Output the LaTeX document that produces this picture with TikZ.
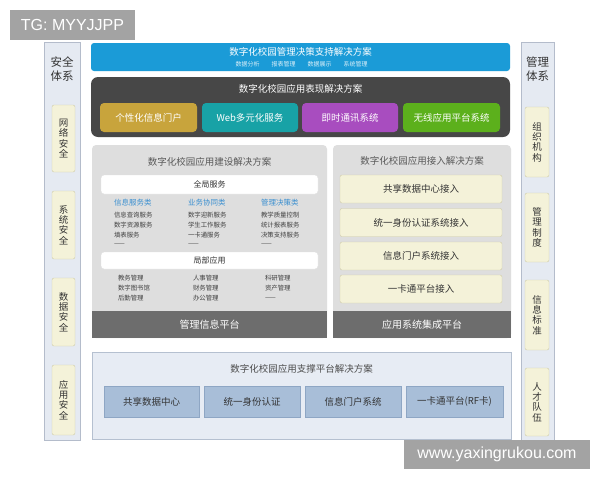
\documentclass[tikz,border=0pt]{standalone}
\usepackage{fontspec}
\setmainfont{Noto Sans CJK SC}
\newfontfamily\latinfont{Liberation Sans}
\definecolor{barblue}{HTML}{1B9BD7}
\definecolor{darkbar}{HTML}{474747}
\definecolor{cgold}{HTML}{C8A43C}
\definecolor{cteal}{HTML}{18A2A6}
\definecolor{cpurple}{HTML}{A84DBF}
\definecolor{cgreen}{HTML}{5CB01C}
\definecolor{panelgray}{HTML}{DEDEDE}
\definecolor{bandgray}{HTML}{6D6D6D}
\definecolor{paleyellow}{HTML}{F4F2D9}
\definecolor{yellowedge}{HTML}{CFCBA8}
\definecolor{sidefill}{HTML}{E5EAF2}
\definecolor{sideedge}{HTML}{B4BCCB}
\definecolor{botfill}{HTML}{E7ECF4}
\definecolor{botedge}{HTML}{B5C0D0}
\definecolor{steel}{HTML}{A8BED8}
\definecolor{steeledge}{HTML}{8EA6C4}
\definecolor{headblue}{HTML}{3A8FD0}
\definecolor{txtdark}{HTML}{333333}
\definecolor{wmgray}{HTML}{A3A3A3}
\begin{document}
\begin{tikzpicture}[x=1pt,y=-1pt,
  every node/.style={inner sep=0pt, outer sep=0pt},
  sidecol/.style={draw=sideedge, fill=sidefill, line width=0.8pt},
  sidebox/.style={draw=yellowedge, fill=paleyellow, rounded corners=2pt, minimum width=23pt, align=center, text=txtdark, font=\fontsize{9.5}{10.3}\selectfont},
  sidehead/.style={align=center, text=txtdark, font=\fontsize{11.5}{14}\selectfont},
  showbox/.style={rounded corners=4pt, minimum height=29pt, text=white, font=\fontsize{9.5}{11}\selectfont},
  panel/.style={fill=panelgray, rounded corners=4pt},
  band/.style={fill=bandgray, text=white, font=\fontsize{10}{12}\selectfont},
  ptitle/.style={text=black!65, font=\fontsize{9.5}{11}\selectfont},
  whitebar/.style={fill=white, draw=black!12, rounded corners=3pt, minimum width=217pt, text=txtdark, font=\fontsize{8}{10}\selectfont},
  colhead/.style={anchor=west, text=headblue, font=\fontsize{7.5}{9}\selectfont},
  item/.style={anchor=west, text=black!75, font=\fontsize{6.4}{7.5}\selectfont},
  accessbox/.style={draw=yellowedge, fill=paleyellow, rounded corners=2pt, minimum width=162pt, minimum height=28pt, text=txtdark, font=\fontsize{9.5}{11}\selectfont},
  supportbox/.style={draw=steeledge, fill=steel, minimum height=31pt, text=txtdark, font=\fontsize{9.5}{11}\selectfont},
  markbox/.style={fill=wmgray, text=white, font=\latinfont\fontsize{16}{18}\selectfont}
]
\useasboundingbox (0,0) rectangle (600,480);
\fill[white] (0,0) rectangle (600,480);

% watermark top-left
\node[markbox, minimum width=125pt, minimum height=30pt] (tg) at (72.5,25) {TG: MYYJJPP};

% left column
\node[sidecol, minimum width=36pt, minimum height=398pt] (lcol) at (62,241) {};
\node[sidehead] (lhead) at (62,69) {安全\\体系};
\node[sidebox, minimum height=67pt] (l1) at (63.5,138.5) {网\\络\\安\\全};
\node[sidebox, minimum height=68pt] (l2) at (63.5,225) {系\\统\\安\\全};
\node[sidebox, minimum height=68pt] (l3) at (63.5,312) {数\\据\\安\\全};
\node[sidebox, minimum height=70pt] (l4) at (63.5,400) {应\\用\\安\\全};

% right column
\node[sidecol, minimum width=33pt, minimum height=398pt] (rcol) at (537.5,241) {};
\node[sidehead] (rhead) at (537.5,69) {管理\\体系};
\node[sidebox, minimum width=24pt, minimum height=70pt] (r1) at (537,142) {组\\织\\机\\构};
\node[sidebox, minimum width=24pt, minimum height=69pt] (r2) at (537,227.5) {管\\理\\制\\度};
\node[sidebox, minimum width=24pt, minimum height=70pt] (r3) at (537,315) {信\\息\\标\\准};
\node[sidebox, minimum width=24pt, minimum height=68pt] (r4) at (537,402) {人\\才\\队\\伍};

% top blue bar
\node[fill=barblue, rounded corners=3pt, minimum width=419pt, minimum height=28pt] (blue) at (300.5,57) {};
\node[text=white, font=\fontsize{9.5}{11}\selectfont] (bluetitle) at (300.5,51.5) {数字化校园管理决策支持解决方案};
\node[text=white!85!barblue, font=\fontsize{6}{7}\selectfont] (bluesub) at (301.5,64.5) {数据分析\hspace{12pt}报表管理\hspace{12pt}数据展示\hspace{12pt}系统管理};

% dark presentation bar
\node[fill=darkbar, rounded corners=7pt, minimum width=419pt, minimum height=60pt] (dark) at (300.5,107) {};
\node[text=white, font=\fontsize{9.5}{11}\selectfont] (darktitle) at (300.5,89) {数字化校园应用表现解决方案};
\node[showbox, fill=cgold, minimum width=97pt] (p1) at (148.5,117.5) {个性化信息门户};
\node[showbox, fill=cteal, minimum width=96pt] (p2) at (250,117.5) {Web多元化服务};
\node[showbox, fill=cpurple, minimum width=96pt] (p3) at (350,117.5) {即时通讯系统};
\node[showbox, fill=cgreen, minimum width=97pt] (p4) at (451.5,117.5) {无线应用平台系统};

% left middle panel
\node[panel, minimum width=235pt, minimum height=193pt] (lmid) at (209.5,241.5) {};
\node[band, minimum width=235pt, minimum height=27pt] (lband) at (209.5,324.5) {管理信息平台};
\node[ptitle] (ltitle) at (209.5,162) {数字化校园应用建设解决方案};
\node[whitebar, minimum height=19pt] (glob) at (209.5,184.5) {全局服务};
\node[colhead] (h1) at (114,203) {信息服务类};
\node[colhead] (h2) at (188,203) {业务协同类};
\node[colhead] (h3) at (261,203) {管理决策类};
\node[item] (a1) at (114,215) {信息查询服务};
\node[item] (a2) at (114,225) {数字资源服务};
\node[item] (a3) at (114,235) {填表服务};
\node[item] (a4) at (114,244) {——};
\node[item] (b1) at (188,215) {数字迎新服务};
\node[item] (b2) at (188,225) {学生工作服务};
\node[item] (b3) at (188,235) {一卡通服务};
\node[item] (b4) at (188,244) {——};
\node[item] (c1) at (261,215) {教学质量控制};
\node[item] (c2) at (261,225) {统计报表服务};
\node[item] (c3) at (261,235) {决策支持服务};
\node[item] (c4) at (261,244) {——};
\node[whitebar, minimum height=17pt] (local) at (209.5,260.5) {局部应用};
\node[item] (d1) at (118,278) {教务管理};
\node[item] (d2) at (118,288) {数字图书馆};
\node[item] (d3) at (118,298) {后勤管理};
\node[item] (e1) at (193,278) {人事管理};
\node[item] (e2) at (193,288) {财务管理};
\node[item] (e3) at (193,298) {办公管理};
\node[item] (f1) at (265,278) {科研管理};
\node[item] (f2) at (265,288) {资产管理};
\node[item] (f3) at (265,298) {——};

% right middle panel
\node[panel, minimum width=178pt, minimum height=193pt] (rmid) at (422,241.5) {};
\node[band, minimum width=178pt, minimum height=27pt] (rband) at (422,324.5) {应用系统集成平台};
\node[ptitle] (rtitle) at (422,161) {数字化校园应用接入解决方案};
\node[accessbox] (q1) at (421,189) {共享数据中心接入};
\node[accessbox] (q2) at (421,222.5) {统一身份认证系统接入};
\node[accessbox] (q3) at (421,256) {信息门户系统接入};
\node[accessbox] (q4) at (421,289) {一卡通平台接入};

% bottom support panel
\node[draw=botedge, fill=botfill, line width=0.8pt, minimum width=419pt, minimum height=87pt] (bot) at (301.5,395.5) {};
\node[ptitle, text=black!70] (bottitle) at (301.5,369) {数字化校园应用支撑平台解决方案};
\node[supportbox, minimum width=95pt] (s1) at (151.5,401.5) {共享数据中心};
\node[supportbox, minimum width=96pt] (s2) at (252,401.5) {统一身份认证};
\node[supportbox, minimum width=96pt] (s3) at (353,401.5) {信息门户系统};
\node[supportbox, minimum width=97pt] (s4) at (454.5,401.5) {一卡通平台(RF卡)};

% watermark bottom-right
\node[markbox, minimum width=186pt, minimum height=29pt] (wm) at (497,454.5) {www.yaxingrukou.com};
\end{tikzpicture}
\end{document}
